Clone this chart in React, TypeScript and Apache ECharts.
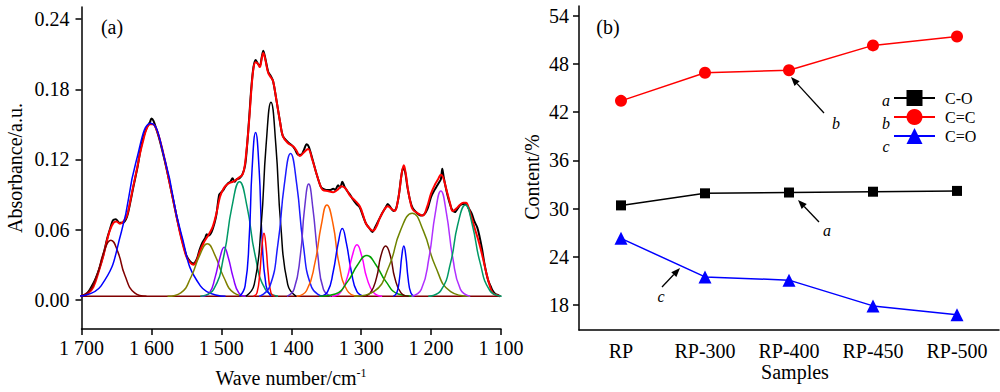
import React, { useEffect, useRef } from 'react';
import * as echarts from 'echarts';

// ---------- Panel (a): FTIR spectrum and fitted peaks ----------
const wavenumberTicks = [1700, 1600, 1500, 1400, 1300, 1200, 1100];
const absorbanceTicks = [0, 0.06, 0.12, 0.18, 0.24];

const measuredSpectrum: number[][] = [
  [1700,0.003],[1695,0.004],[1690,0.007],[1685,0.012],[1680,0.018],[1675,0.026],[1669,0.038],[1663,0.053],[1659,0.061],[1655,0.068],
  [1651,0.069],[1646,0.066],[1641,0.066],[1635,0.071],[1630,0.084],[1626,0.096],[1620,0.113],[1616,0.127],[1611,0.140],[1606,0.148],
  [1602,0.152],[1600,0.155],[1597,0.153],[1593,0.146],[1588,0.136],[1581,0.119],[1574,0.100],[1566,0.077],[1561,0.063],[1559,0.058],
  [1554,0.046],[1550,0.038],[1545,0.033],[1540,0.031],[1535,0.035],[1531,0.043],[1527,0.049],[1523,0.053],[1521,0.056],[1518,0.055],
  [1514,0.058],[1510,0.065],[1507,0.073],[1503,0.090],[1500,0.092],[1497,0.094],[1494,0.097],[1490,0.100],[1487,0.101],[1484,0.104],
  [1481,0.101],[1478,0.103],[1474,0.104],[1470,0.107],[1466,0.115],[1463,0.133],[1460,0.157],[1457,0.182],[1454,0.199],[1451,0.205],
  [1448,0.202],[1445,0.200],[1442,0.208],[1440,0.213],[1437,0.206],[1433,0.195],[1429,0.191],[1426,0.187],[1421,0.170],[1416,0.152],
  [1412,0.140],[1405,0.135],[1399,0.132],[1395,0.129],[1390,0.124],[1386,0.124],[1382,0.128],[1378,0.133],[1375,0.131],[1370,0.121],
  [1364,0.108],[1358,0.097],[1355,0.095],[1350,0.094],[1344,0.094],[1340,0.095],[1337,0.094],[1333,0.098],[1330,0.096],[1327,0.101],
  [1324,0.097],[1320,0.093],[1316,0.090],[1312,0.086],[1307,0.082],[1302,0.079],[1297,0.071],[1293,0.065],[1288,0.061],[1284,0.058],
  [1280,0.062],[1275,0.068],[1270,0.074],[1265,0.079],[1262,0.082],[1258,0.079],[1254,0.076],[1250,0.078],[1246,0.090],[1243,0.104],
  [1240,0.113],[1237,0.109],[1234,0.097],[1230,0.085],[1226,0.078],[1220,0.074],[1215,0.072],[1210,0.073],[1205,0.078],[1200,0.088],
  [1195,0.094],[1191,0.098],[1188,0.101],[1186,0.103],[1184,0.112],[1182,0.105],[1179,0.096],[1175,0.086],[1170,0.077],[1166,0.075],
  [1162,0.078],[1158,0.081],[1154,0.082],[1150,0.082],[1146,0.078],[1142,0.074],[1138,0.067],[1134,0.062],[1131,0.055],[1127,0.043],
  [1124,0.032],[1121,0.023],[1118,0.016],[1115,0.012],[1112,0.008],[1108,0.005],[1104,0.004],[1101,0.003]
];

const fittedSpectrum: number[][] = [
  [1700,0.003],[1690,0.006],[1683,0.011],[1675,0.025],[1669,0.037],[1663,0.052],[1659,0.060],[1654,0.066],[1650,0.067],[1645,0.065],
  [1640,0.067],[1635,0.072],[1630,0.085],[1626,0.097],[1620,0.114],[1616,0.126],[1611,0.138],[1607,0.146],[1602,0.150],[1598,0.150],
  [1593,0.146],[1588,0.137],[1581,0.120],[1574,0.100],[1566,0.077],[1559,0.057],[1554,0.045],[1550,0.037],[1545,0.032],[1540,0.030],
  [1535,0.034],[1531,0.041],[1525,0.049],[1521,0.053],[1516,0.058],[1512,0.063],[1507,0.074],[1502,0.088],[1497,0.095],[1493,0.098],
  [1488,0.100],[1483,0.101],[1476,0.104],[1469,0.108],[1464,0.128],[1460,0.155],[1457,0.180],[1454,0.198],[1451,0.203],[1448,0.202],
  [1445,0.199],[1442,0.207],[1440,0.211],[1437,0.205],[1433,0.194],[1429,0.190],[1426,0.187],[1421,0.170],[1416,0.152],[1412,0.140],
  [1405,0.134],[1397,0.131],[1392,0.127],[1388,0.123],[1382,0.126],[1376,0.129],[1370,0.120],[1364,0.108],[1358,0.097],[1355,0.094],
  [1348,0.093],[1340,0.092],[1334,0.094],[1328,0.097],[1322,0.095],[1316,0.089],[1309,0.085],[1302,0.080],[1297,0.072],[1293,0.065],
  [1288,0.061],[1283,0.059],[1278,0.063],[1274,0.069],[1268,0.076],[1262,0.080],[1257,0.078],[1252,0.076],[1248,0.083],[1245,0.094],
  [1242,0.108],[1239,0.115],[1236,0.107],[1233,0.094],[1229,0.082],[1226,0.077],[1219,0.074],[1212,0.072],[1206,0.079],[1200,0.091],
  [1194,0.099],[1190,0.103],[1186,0.107],[1183,0.105],[1178,0.094],[1173,0.083],[1169,0.076],[1164,0.078],[1159,0.081],[1154,0.083],
  [1150,0.083],[1146,0.078],[1143,0.072],[1137,0.060],[1131,0.048],[1126,0.036],[1121,0.023],[1116,0.012],[1112,0.006],[1106,0.004],
  [1101,0.003]
];

const baselineLine: number[][] = [[1700,0.003],[1101,0.003]];

const peak1658 = [[1709,0.003],[1692,0.006],[1678,0.021],[1668,0.041],[1658,0.051],[1648,0.041],[1638,0.021],[1624,0.006],[1607,0.003]];
const peak1601 = [[1707,0.003],[1672,0.012],[1643,0.058],[1622,0.118],[1601,0.151],[1580,0.118],[1558,0.058],[1530,0.012],[1494,0.003]];
const peak1520 = [[1577,0.003],[1558,0.006],[1543,0.020],[1531,0.038],[1520,0.048],[1509,0.038],[1497,0.020],[1482,0.006],[1463,0.003]];
const peak1496 = [[1528,0.003],[1517,0.006],[1509,0.019],[1502,0.036],[1496,0.045],[1490,0.036],[1483,0.019],[1475,0.006],[1465,0.003]];
const peak1474 = [[1530,0.003],[1511,0.009],[1496,0.039],[1485,0.079],[1474,0.101],[1463,0.079],[1452,0.039],[1437,0.009],[1419,0.003]];
const peak1451 = [[1474,0.003],[1466,0.012],[1460,0.055],[1456,0.112],[1451,0.143],[1446,0.112],[1442,0.055],[1436,0.012],[1429,0.003]];
const peak1439 = [[1454,0.003],[1449,0.006],[1445,0.023],[1442,0.045],[1439,0.057],[1436,0.045],[1433,0.023],[1429,0.006],[1424,0.003]];
const peak1429 = [[1465,0.003],[1453,0.013],[1443,0.064],[1436,0.132],[1429,0.169],[1422,0.132],[1415,0.064],[1405,0.013],[1393,0.003]];
const peak1401 = [[1446,0.003],[1431,0.011],[1419,0.048],[1410,0.098],[1401,0.125],[1392,0.098],[1383,0.048],[1371,0.011],[1356,0.003]];
const peak1375 = [[1406,0.003],[1396,0.009],[1387,0.038],[1381,0.078],[1375,0.099],[1369,0.078],[1362,0.038],[1354,0.009],[1343,0.003]];
const peak1349 = [[1392,0.003],[1378,0.008],[1366,0.032],[1357,0.064],[1349,0.081],[1340,0.064],[1332,0.032],[1320,0.008],[1305,0.003]];
const peak1327 = [[1358,0.003],[1348,0.007],[1340,0.024],[1333,0.048],[1327,0.061],[1321,0.048],[1314,0.024],[1306,0.007],[1295,0.003]];
const peak1306 = [[1342,0.003],[1330,0.006],[1320,0.019],[1313,0.037],[1306,0.047],[1299,0.037],[1292,0.019],[1282,0.006],[1270,0.003]];
const peak1292 = [[1360,0.003],[1337,0.005],[1319,0.016],[1305,0.030],[1292,0.038],[1279,0.030],[1265,0.016],[1247,0.005],[1225,0.003]];
const peak1265 = [[1298,0.003],[1287,0.006],[1278,0.019],[1272,0.037],[1265,0.046],[1258,0.037],[1252,0.019],[1243,0.006],[1232,0.003]];
const peak1239 = [[1254,0.003],[1249,0.006],[1245,0.019],[1242,0.037],[1239,0.046],[1236,0.037],[1233,0.019],[1229,0.006],[1224,0.003]];
const peak1227 = [[1310,0.003],[1282,0.007],[1260,0.029],[1244,0.059],[1227,0.074],[1211,0.059],[1194,0.029],[1172,0.007],[1145,0.003]];
const peak1186 = [[1228,0.003],[1214,0.009],[1203,0.036],[1194,0.074],[1186,0.093],[1178,0.074],[1169,0.036],[1158,0.009],[1144,0.003]];
const peak1151 = [[1204,0.003],[1186,0.008],[1172,0.032],[1162,0.064],[1151,0.081],[1141,0.064],[1130,0.032],[1116,0.008],[1099,0.003]];

const fittedPeaks = [peak1658, peak1601, peak1520, peak1496, peak1474, peak1451, peak1439, peak1429, peak1401, peak1375,
  peak1349, peak1327, peak1306, peak1292, peak1265, peak1239, peak1227, peak1186, peak1151];
const peakColors = ['#800000', '#0000ff', '#808000', '#8a00ff', '#009966', '#0000ff', '#ff0000', '#000000', '#1a1aff', '#6633d0',
  '#ff6000', '#0000ff', '#ff00ff', '#00a000', '#660000', '#0000ff', '#6f8400', '#b030ff', '#009966'];

// ---------- Panel (b): bond contents ----------
const samples = ['RP', 'RP-300', 'RP-400', 'RP-450', 'RP-500'];
const contentTicks = [18, 24, 30, 36, 42, 48, 54];
const coContent = [30.4, 31.9, 32.0, 32.1, 32.2];
const ccContent = [43.4, 46.9, 47.2, 50.3, 51.4];
const c_oContent = [26.3, 21.5, 21.1, 17.9, 16.8];

const FONT = "'Liberation Serif', 'Times New Roman', serif";

function arrow(tail: number[], head: number[]) {
  const dx = head[0] - tail[0];
  const dy = head[1] - tail[1];
  const len = Math.sqrt(dx * dx + dy * dy);
  const ux = dx / len, uy = dy / len;
  const bx = head[0] - ux * 9, by = head[1] - uy * 9;
  const px = -uy * 3.5, py = ux * 3.5;
  return [
    { type: 'line', shape: { x1: tail[0], y1: tail[1], x2: bx, y2: by }, style: { stroke: '#000', lineWidth: 1.3 } },
    { type: 'polygon', shape: { points: [[head[0], head[1]], [bx + px, by + py], [bx - px, by - py]] }, style: { fill: '#000' } },
  ];
}

export default function App() {
  const ref = useRef<HTMLDivElement>(null);
  useEffect(() => {
    const chart = echarts.init(ref.current!, null, { renderer: 'svg' });
    const axisLine = { lineStyle: { color: '#000', width: 1.5 } };
    const axisTick = { lineStyle: { color: '#000', width: 1.5 }, length: 6 };
    const labelStyle = { color: '#000', fontFamily: FONT, fontSize: 20 };

    const leftSeries: any[] = [
      { type: 'line', data: measuredSpectrum, xAxisIndex: 0, yAxisIndex: 0, showSymbol: false, smooth: 0.3,
        lineStyle: { color: '#000', width: 2 } },
      { type: 'line', data: fittedSpectrum, xAxisIndex: 0, yAxisIndex: 0, showSymbol: false, smooth: 0.4,
        lineStyle: { color: '#ff0000', width: 2 } },
      { type: 'line', data: baselineLine, xAxisIndex: 0, yAxisIndex: 0, showSymbol: false,
        lineStyle: { color: '#800000', width: 1.5 } },
      ...fittedPeaks.map((pk, i) => ({
        type: 'line', data: pk, xAxisIndex: 0, yAxisIndex: 0, showSymbol: false, smooth: 0.5,
        lineStyle: { color: peakColors[i], width: 1.5 },
      })),
    ];

    const rightSeries: any[] = [
      { name: 'C-O', type: 'line', data: coContent, xAxisIndex: 1, yAxisIndex: 1, symbol: 'rect', symbolSize: 10,
        itemStyle: { color: '#000' }, lineStyle: { color: '#000', width: 1.5 } },
      { name: 'C=C', type: 'line', data: ccContent, xAxisIndex: 1, yAxisIndex: 1, symbol: 'circle', symbolSize: 12,
        itemStyle: { color: '#ff0000' }, lineStyle: { color: '#ff0000', width: 1.5 } },
      { name: 'C=O', type: 'line', data: c_oContent, xAxisIndex: 1, yAxisIndex: 1, symbol: 'triangle', symbolSize: 13,
        itemStyle: { color: '#0000ff' }, lineStyle: { color: '#0000ff', width: 1.5 } },
    ];

    const italic = (text: string, x: number, y: number) => ({
      type: 'text', x, y,
      style: { text, fill: '#000', font: `italic 16px ${FONT}`, textAlign: 'center', textVerticalAlign: 'middle' },
    });

    chart.setOption({
      animation: false,
      grid: [
        { left: 81.5, right: 499, top: 7, bottom: 63 },
        { left: 579, right: 1, top: 6, bottom: 62 },
      ],
      xAxis: [
        { type: 'value', gridIndex: 0, min: 1100, max: 1700, interval: 100, inverse: true,
          axisLine: { ...axisLine, onZero: false }, axisTick, splitLine: { show: false },
          axisLabel: { ...labelStyle, margin: 9, formatter: (v: number) => { const s = String(v); return s[0] + ' ' + s.slice(1); } } },
        { type: 'category', gridIndex: 1, data: samples, boundaryGap: true,
          axisLine, axisTick: { ...axisTick, alignWithLabel: true }, splitLine: { show: false },
          axisLabel: { ...labelStyle, margin: 11 } },
      ],
      yAxis: [
        { type: 'value', gridIndex: 0, min: -0.0249, max: 0.2503,
          axisLine: { ...axisLine, show: true, onZero: false },
          axisTick: { ...axisTick, show: true, customValues: absorbanceTicks },
          splitLine: { show: false },
          axisLabel: { ...labelStyle, margin: 12, customValues: absorbanceTicks, formatter: (v: number) => v.toFixed(2) } },
        { type: 'value', gridIndex: 1, min: 14.9, max: 55.2,
          axisLine: { ...axisLine, show: true, onZero: false },
          axisTick: { ...axisTick, show: true, customValues: contentTicks },
          splitLine: { show: false },
          axisLabel: { ...labelStyle, margin: 10, customValues: contentTicks } },
      ],
      legend: {
        data: ['C-O', 'C=C', 'C=O'], orient: 'vertical', left: 893, top: 90, padding: 0,
        itemWidth: 41, itemHeight: 20, itemGap: 3,
        textStyle: { color: '#000', fontFamily: FONT, fontSize: 16, padding: [0, 0, 0, 5] },
      },
      series: [...leftSeries, ...rightSeries],
      graphic: [
        { type: 'text', x: 112, y: 27, style: { text: '(a)', fill: '#000', font: `20px ${FONT}`, textAlign: 'center', textVerticalAlign: 'middle' } },
        { type: 'text', x: 608, y: 27, style: { text: '(b)', fill: '#000', font: `20px ${FONT}`, textAlign: 'center', textVerticalAlign: 'middle' } },
        { type: 'text', x: 15, y: 168, rotation: Math.PI / 2,
          style: { text: 'Absorbance/a.u.', fill: '#000', font: `20px ${FONT}`, textAlign: 'center', textVerticalAlign: 'middle' } },
        { type: 'text', x: 532, y: 177, rotation: Math.PI / 2,
          style: { text: 'Content/%', fill: '#000', font: `20px ${FONT}`, textAlign: 'center', textVerticalAlign: 'middle' } },
        { type: 'text', x: 291, y: 378,
          style: { text: 'Wave number/cm{sup|-1}', fill: '#000', font: `20px ${FONT}`, textAlign: 'center', textVerticalAlign: 'middle',
            rich: { sup: { fontSize: 12, fontFamily: FONT, fill: '#000', verticalAlign: 'top', padding: [0, 0, 10, 0] } } } },
        { type: 'text', x: 795, y: 372,
          style: { text: 'Samples', fill: '#000', font: `20px ${FONT}`, textAlign: 'center', textVerticalAlign: 'middle' } },
        italic('a', 886, 100), italic('b', 886, 123), italic('c', 886, 146),
        ...arrow([824, 113], [791, 77]), italic('b', 836, 123),
        ...arrow([819, 222], [798, 200]), italic('a', 827, 230),
        ...arrow([662, 287], [680, 268]), italic('c', 661, 296),
      ],
    });
    return () => chart.dispose();
  }, []);
  return <div ref={ref} style={{ position: 'absolute', left: 0, top: 0, width: 1000, height: 392 }} />;
}
